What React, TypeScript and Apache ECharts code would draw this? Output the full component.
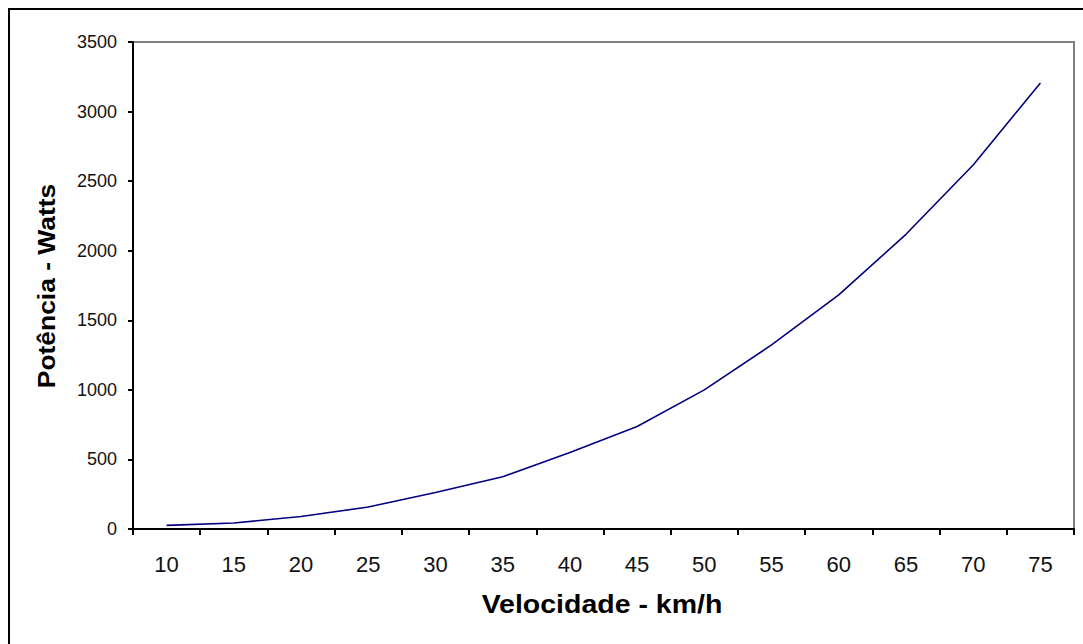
import React, { useEffect, useRef } from "react";
import * as echarts from "echarts";

const categories = ["10", "15", "20", "25", "30", "35", "40", "45", "50", "55", "60", "65", "70", "75"];
const potencia = [26, 43, 90, 158, 262, 375, 550, 737, 1000, 1323, 1682, 2118, 2616, 3206];
const xTitle = "Velocidade - km/h";
const yTitle = "Potência - Watts";

const FONT = "'Liberation Sans', Arial, sans-serif";

export default function App() {
  const ref = useRef<HTMLDivElement>(null);
  useEffect(() => {
    if (!ref.current) return;
    const chart = echarts.init(ref.current, undefined, { renderer: "svg" });
    chart.setOption({
      animation: false,
      backgroundColor: "#ffffff",
      textStyle: { fontFamily: FONT },
      grid: {
        left: 133,
        top: 42,
        right: 9,
        bottom: 115,
        show: true,
        borderColor: "#808080",
        borderWidth: 2,
        backgroundColor: "#ffffff",
      },
      xAxis: {
        type: "category",
        data: categories,
        boundaryGap: true,
        axisLine: { show: true, lineStyle: { color: "#000", width: 2 } },
        axisTick: { show: true, length: 6, lineStyle: { color: "#000", width: 2 } },
        axisLabel: { color: "#111", fontSize: 22, margin: 24, fontFamily: FONT },
        splitLine: { show: false },
      },
      yAxis: {
        type: "value",
        min: 0,
        max: 3500,
        interval: 500,
        axisLine: { show: true, lineStyle: { color: "#000", width: 2 } },
        axisTick: { show: true, length: 5, lineStyle: { color: "#000", width: 2 } },
        axisLabel: {
          color: "#111",
          fontSize: 18,
          margin: 16,
          fontFamily: FONT,
          formatter: (v: number) => String(v),
        },
        splitLine: { show: false },
      },
      series: [
        {
          type: "line",
          data: potencia,
          symbol: "none",
          smooth: false,
          lineStyle: { color: "#000080", width: 1.6 },
        },
      ],
      graphic: [
        {
          type: "rect",
          shape: { x: 9, y: 9, width: 1200, height: 800 },
          style: { fill: "none", stroke: "#000", lineWidth: 2 },
          silent: true,
        },
        {
          type: "text",
          x: 602,
          y: 605,
          scaleX: 1.14,
          style: {
            text: xTitle,
            fontSize: 25,
            fontWeight: "bold",
            fontFamily: FONT,
            fill: "#000",
            align: "center",
            verticalAlign: "middle",
          },
        },
        {
          type: "text",
          x: 46,
          y: 286,
          rotation: Math.PI / 2,
          scaleX: 1.1,
          style: {
            text: yTitle,
            fontSize: 24,
            fontWeight: "bold",
            fontFamily: FONT,
            fill: "#000",
            align: "center",
            verticalAlign: "middle",
          },
        },
      ],
    });
    return () => chart.dispose();
  }, []);
  return (
    <div
      ref={ref}
      style={{ position: "fixed", left: 0, top: 0, width: 1083, height: 644, background: "#fff" }}
    />
  );
}
